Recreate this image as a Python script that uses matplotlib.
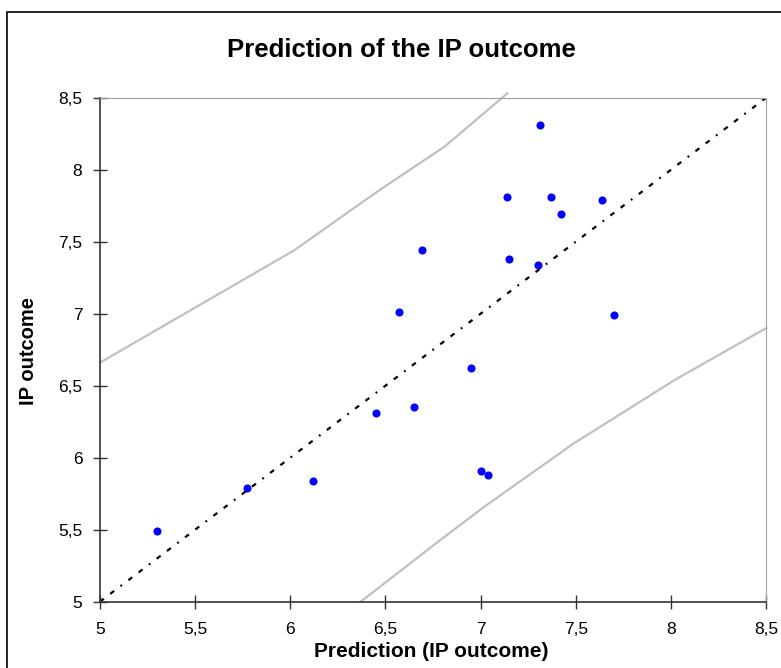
import matplotlib.pyplot as plt
import numpy as np
from matplotlib.patches import Rectangle
from matplotlib.ticker import FuncFormatter

plt.rcParams['font.family'] = ['Liberation Sans', 'DejaVu Sans']

# observed vs predicted IP outcome
pred = [5.30, 5.77, 6.12, 6.45, 6.65, 6.95, 7.00, 7.04, 6.57, 7.70,
        7.31, 7.14, 7.37, 7.64, 7.42, 6.69, 7.15, 7.30]
outcome = [5.49, 5.79, 5.84, 6.31, 6.35, 6.62, 5.91, 5.88, 7.01, 6.99,
           8.31, 7.81, 7.81, 7.79, 7.69, 7.44, 7.38, 7.34]

# identity line
ident_x = [5.0, 8.5]
ident_y = [5.0, 8.5]

# upper / lower bands
upper_x = [5.0, 5.51, 6.02, 6.47, 6.81, 7.14]
upper_y = [6.66, 7.05, 7.44, 7.86, 8.16, 8.53]
lower_x = [6.37, 6.77, 7.02, 7.49, 8.02, 8.5]
lower_y = [5.0, 5.41, 5.66, 6.10, 6.54, 6.90]

ticks = [5, 5.5, 6, 6.5, 7, 7.5, 8, 8.5]

fig = plt.figure(figsize=(7.81, 6.68), dpi=100)
ax = fig.add_axes([0.128, 0.0993, 0.853, 0.7544])

# outer chart border (cut off at right and bottom)
fig.patches.append(Rectangle((7.5 / 781, -0.05), 1.0, 1 - 11.5 / 668 + 0.05,
                             transform=fig.transFigure, fill=False,
                             edgecolor='black', linewidth=1.2))

ax.plot(upper_x, upper_y, color='#c0c0c0', lw=1.6, clip_on=False)
ax.plot(lower_x, lower_y, color='#c0c0c0', lw=1.6, clip_on=False)
ax.plot(ident_x, ident_y, color='black', lw=1.6,
        linestyle=(0, (2.2, 3.6, 2.2, 3.6, 0.8, 3.6)))
ax.scatter(pred, outcome, s=34, color='#0000ff', zorder=3, linewidths=0)

ax.set_xlim(5, 8.5)
ax.set_ylim(5, 8.5)
ax.set_xticks(ticks)
ax.set_yticks(ticks)
fmt = FuncFormatter(lambda v, p: ('%g' % v).replace('.', ','))
ax.xaxis.set_major_formatter(fmt)
ax.yaxis.set_major_formatter(fmt)
ax.tick_params(direction='inout', length=9.4, width=1, color='#333333',
               labelsize=12.5)
ax.tick_params(axis='x', pad=10)
ax.tick_params(axis='y', pad=8)

for side in ['top', 'right']:
    ax.spines[side].set_color('#a0a0a0')
for side in ['left', 'bottom']:
    ax.spines[side].set_color('#333333')
    ax.spines[side].set_linewidth(1.2)

ax.set_title('Prediction of the IP outcome', fontsize=18.5, fontweight='bold',
             pad=29, x=0.452)
ax.set_xlabel('Prediction (IP outcome)', fontsize=15, fontweight='bold')
ax.set_ylabel('IP outcome', fontsize=14.5, fontweight='bold')
ax.xaxis.set_label_coords(0.497, -0.081)
ax.yaxis.set_label_coords(-0.093, 0.497)

fig.savefig('out.png', dpi=100)
